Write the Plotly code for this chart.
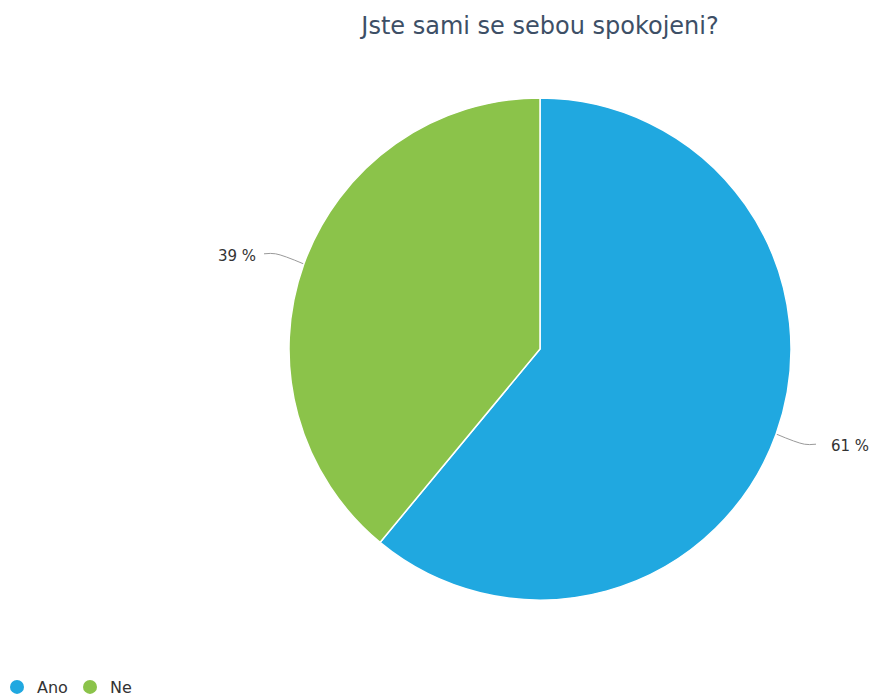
import math
import plotly.graph_objects as go

# Survey answers
labels = ["Ano", "Ne"]
values = [61, 39]
colors = ["#20a8e0", "#8bc34a"]
title = "Jste sami se sebou spokojeni?"

W, H = 870, 699
cx, cy, R = 540, 349, 251  # pie centre and radius in pixels

fig = go.Figure()

fig.add_trace(go.Pie(
    labels=labels, values=values, sort=False, direction="clockwise", rotation=0,
    marker=dict(colors=colors, line=dict(color="#ffffff", width=1.5)),
    textinfo="none", hoverinfo="label+percent", showlegend=False,
    domain=dict(x=[(cx - R) / W, (cx + R) / W], y=[1 - (cy + R) / H, 1 - (cy - R) / H]),
))

# Leader lines and outside labels, placed at each slice's mid-angle
total = sum(values)
cum = 0
for lab, v in zip(labels, values):
    mid = (cum + v / 2) / total * 2 * math.pi
    cum += v
    sx, sy = math.sin(mid), -math.cos(mid)
    p0 = (cx + R * sx, cy + R * sy)
    p1 = (cx + (R + 30) * sx, cy + (R + 30) * sy)
    side = 1 if sx >= 0 else -1
    p2 = (cx + side * (R + 25), p1[1])
    if side * p2[0] < side * p1[0]:
        p2 = (p1[0] + side * 6, p1[1])
    fig.add_trace(go.Scatter(
        x=[p0[0], p1[0], p2[0]], y=[p0[1], p1[1], p2[1]], mode="lines",
        line=dict(color="#9a9a9a", width=1, shape="spline"),
        hoverinfo="skip", showlegend=False,
    ))
    pct = round(v / total * 100)
    fig.add_annotation(
        x=p2[0] + side * (13 if side > 0 else 6), y=p2[1] + 2, xref="x", yref="y",
        text=f"{pct} %", showarrow=False,
        xanchor="left" if side > 0 else "right", yanchor="middle",
        font=dict(family="DejaVu Sans", size=15, color="#333333"),
    )

# Legend entries drawn with round markers
for lab, c in zip(labels, colors):
    fig.add_trace(go.Scatter(
        x=[None], y=[None], mode="markers", name=lab,
        marker=dict(color=c, size=14, symbol="circle"),
    ))

fig.update_layout(
    width=W, height=H,
    margin=dict(l=0, r=0, t=0, b=0, autoexpand=False),
    paper_bgcolor="#ffffff", plot_bgcolor="rgba(0,0,0,0)",
    title=dict(text=title, x=cx / W, xanchor="center", y=1 - 26 / H, yanchor="middle",
               xref="paper", yref="container",
               font=dict(family="DejaVu Sans", size=24, color="#3d4f66")),
    xaxis=dict(range=[0, W], visible=False, fixedrange=True),
    yaxis=dict(range=[H, 0], visible=False, fixedrange=True),
    legend=dict(orientation="h", x=-3 / W, xanchor="left", y=1 - 687 / H, yanchor="middle",
                font=dict(family="DejaVu Sans", size=16, color="#333333"),
                entrywidth=28, entrywidthmode="pixels",
                tracegroupgap=0, bgcolor="rgba(0,0,0,0)"),
)

fig.write_html("out.html")
